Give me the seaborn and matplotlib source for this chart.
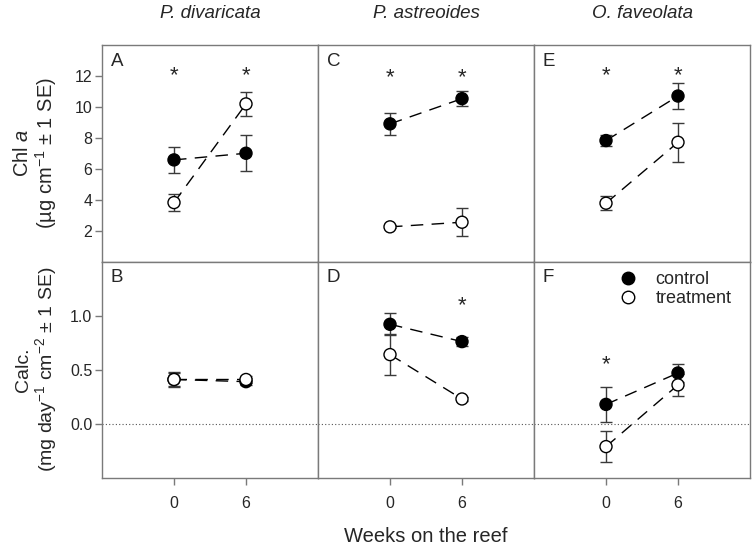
import numpy as np
import pandas as pd
import matplotlib
matplotlib.use("Agg")
import matplotlib.pyplot as plt
from matplotlib.lines import Line2D
import seaborn as sns

# ---------------- data ----------------
weeks = [0, 6]
species = ["P. divaricata", "P. astreoides", "O. faveolata"]
letters_top = ["A", "C", "E"]
letters_bot = ["B", "D", "F"]

chl_control = [[6.57, 7.00], [8.90, 10.53], [7.82, 10.70]]
chl_control_se = [[0.82, 1.17], [0.72, 0.50], [0.38, 0.83]]
chl_treat = [[3.81, 10.19], [2.24, 2.54], [3.77, 7.71]]
chl_treat_se = [[0.54, 0.79], [0.10, 0.90], [0.47, 1.26]]
chl_star_y = [[12.0, 12.0], [11.9, 11.9], [12.0, 12.0]]
chl_sig = [[True, True], [True, True], [True, True]]

calc_control = [[0.41, 0.39], [0.92, 0.76], [0.18, 0.47]]
calc_control_se = [[0.06, 0.03], [0.10, 0.04], [0.165, 0.08]]
calc_treat = [[0.41, 0.41], [0.64, 0.23], [-0.21, 0.36]]
calc_treat_se = [[0.07, 0.03], [0.19, 0.02], [0.145, 0.10]]
calc_star_y = [[1.09, 1.09], [1.09, 1.09], [0.55, 0.55]]
calc_sig = [[False, False], [False, True], [True, False]]

groups = ["control", "treatment"]

# ---------------- style ----------------
sns.set_theme(style="white")
plt.rcParams["font.family"] = ["Liberation Sans", "DejaVu Sans"]
plt.rcParams["mathtext.fontset"] = "custom"
plt.rcParams["mathtext.rm"] = "Liberation Sans"
plt.rcParams["mathtext.it"] = "Liberation Sans:italic"

W, H = 755, 549
fig = plt.figure(figsize=(W / 100, H / 100), dpi=100)

x0 = 102
pw = 216
ph = 216.5
top_y = 45
spine_col = "#7a7a7a"
err_col = "#3a3a3a"
tick_fs = 11.5


def make_ax(col, row):
    left = (x0 + col * pw) / W
    bottom = 1 - (top_y + (row + 1) * ph) / H
    return fig.add_axes([left, bottom, pw / W, ph / H])


def draw_panel(ax, ctrl, ctrl_se, trt, trt_se, star_y, sig, ylim):
    df = pd.DataFrame({
        "week": weeks * 2,
        "value": list(ctrl) + list(trt),
        "se": list(ctrl_se) + list(trt_se),
        "group": ["control"] * 2 + ["treatment"] * 2,
    })
    for g in groups:
        sub = df[df.group == g]
        ax.errorbar(sub.week, sub.value, yerr=sub.se, fmt="none",
                    ecolor=err_col, elinewidth=1.0, capsize=4, capthick=1.0,
                    zorder=2)
    sns.lineplot(data=df, x="week", y="value", hue="group", style="group",
                 palette={"control": "black", "treatment": "black"},
                 dashes={"control": (9, 6), "treatment": (9, 6)},
                 linewidth=1.0, legend=False, ax=ax, zorder=2)
    sns.scatterplot(data=df, x="week", y="value", hue="group",
                    palette={"control": "black", "treatment": "white"},
                    edgecolor="black", linewidth=1.0, s=75, legend=False,
                    ax=ax, zorder=3)
    for xv, yv, s in zip(weeks, star_y, sig):
        if s:
            ax.text(xv, yv, "*", ha="center", va="center", fontsize=16)
    ax.set_xlim(-6, 12)
    ax.set_ylim(*ylim)
    ax.set_xlabel("")
    ax.set_ylabel("")
    for sp in ax.spines.values():
        sp.set_color(spine_col)
        sp.set_linewidth(1.0)


axes_top = []
axes_bot = []
for c in range(3):
    at = make_ax(c, 0)
    draw_panel(at, chl_control[c], chl_control_se[c], chl_treat[c],
               chl_treat_se[c], chl_star_y[c], chl_sig[c], (0, 14))
    at.set_xticks([])
    if c == 0:
        at.set_yticks([2, 4, 6, 8, 10, 12])
        at.tick_params(axis="y", direction="out", length=5, width=1,
                       color=spine_col, labelsize=tick_fs, pad=2, left=True)
    else:
        at.set_yticks([])
    at.text(0.04, 0.965, letters_top[c], transform=at.transAxes,
            ha="left", va="top", fontsize=13.5)
    axes_top.append(at)
    fig.text((x0 + (c + 0.5) * pw) / W, 1 - 14 / H, species[c],
             style="italic", fontsize=13.5, ha="center", va="center")

    ab = make_ax(c, 1)
    draw_panel(ab, calc_control[c], calc_control_se[c], calc_treat[c],
               calc_treat_se[c], calc_star_y[c], calc_sig[c], (-0.5, 1.5))
    ab.axhline(0, color="#555555", linestyle=(0, (1, 2)), linewidth=0.8,
               zorder=1)
    ab.set_xticks(weeks)
    ab.set_xticklabels([str(w) for w in weeks])
    ab.tick_params(axis="x", direction="out", length=5, width=1,
                   color=spine_col, labelsize=tick_fs, pad=8, bottom=True)
    if c == 0:
        ab.set_yticks([0.0, 0.5, 1.0])
        ab.set_yticklabels(["0.0", "0.5", "1.0"])
        ab.tick_params(axis="y", direction="out", length=5, width=1,
                       color=spine_col, labelsize=tick_fs, pad=2, left=True)
    else:
        ab.set_yticks([])
    ab.text(0.04, 0.965, letters_bot[c], transform=ab.transAxes,
            ha="left", va="top", fontsize=13.5)
    axes_bot.append(ab)

axes_top[0].set_ylabel("Chl $\\mathit{a}$\n(µg cm$^{-1}$ ± 1 SE)",
                       fontsize=14.5, labelpad=10, linespacing=1.05)
axes_bot[0].set_ylabel("Calc.\n(mg day$^{-1}$ cm$^{-2}$ ± 1 SE)",
                       fontsize=14, labelpad=10, linespacing=1.05)
axes_top[0].yaxis.set_label_coords(-0.2, 0.5)
axes_bot[0].yaxis.set_label_coords(-0.2, 0.5)

handles = [
    Line2D([], [], marker="o", linestyle="none", markersize=9,
           markerfacecolor="black", markeredgecolor="black", label="control"),
    Line2D([], [], marker="o", linestyle="none", markersize=9,
           markerfacecolor="white", markeredgecolor="black", label="treatment"),
]
axes_bot[2].legend(handles=handles, loc="upper left",
                   bbox_to_anchor=(0.32, 0.99), frameon=False, fontsize=13,
                   handletextpad=0.5, labelspacing=0.12, borderaxespad=0)

fig.text((x0 + 1.5 * pw) / W, 1 - 537 / H, "Weeks on the reef",
         ha="center", va="center", fontsize=14.5)

fig.savefig("out.png", dpi=100)
